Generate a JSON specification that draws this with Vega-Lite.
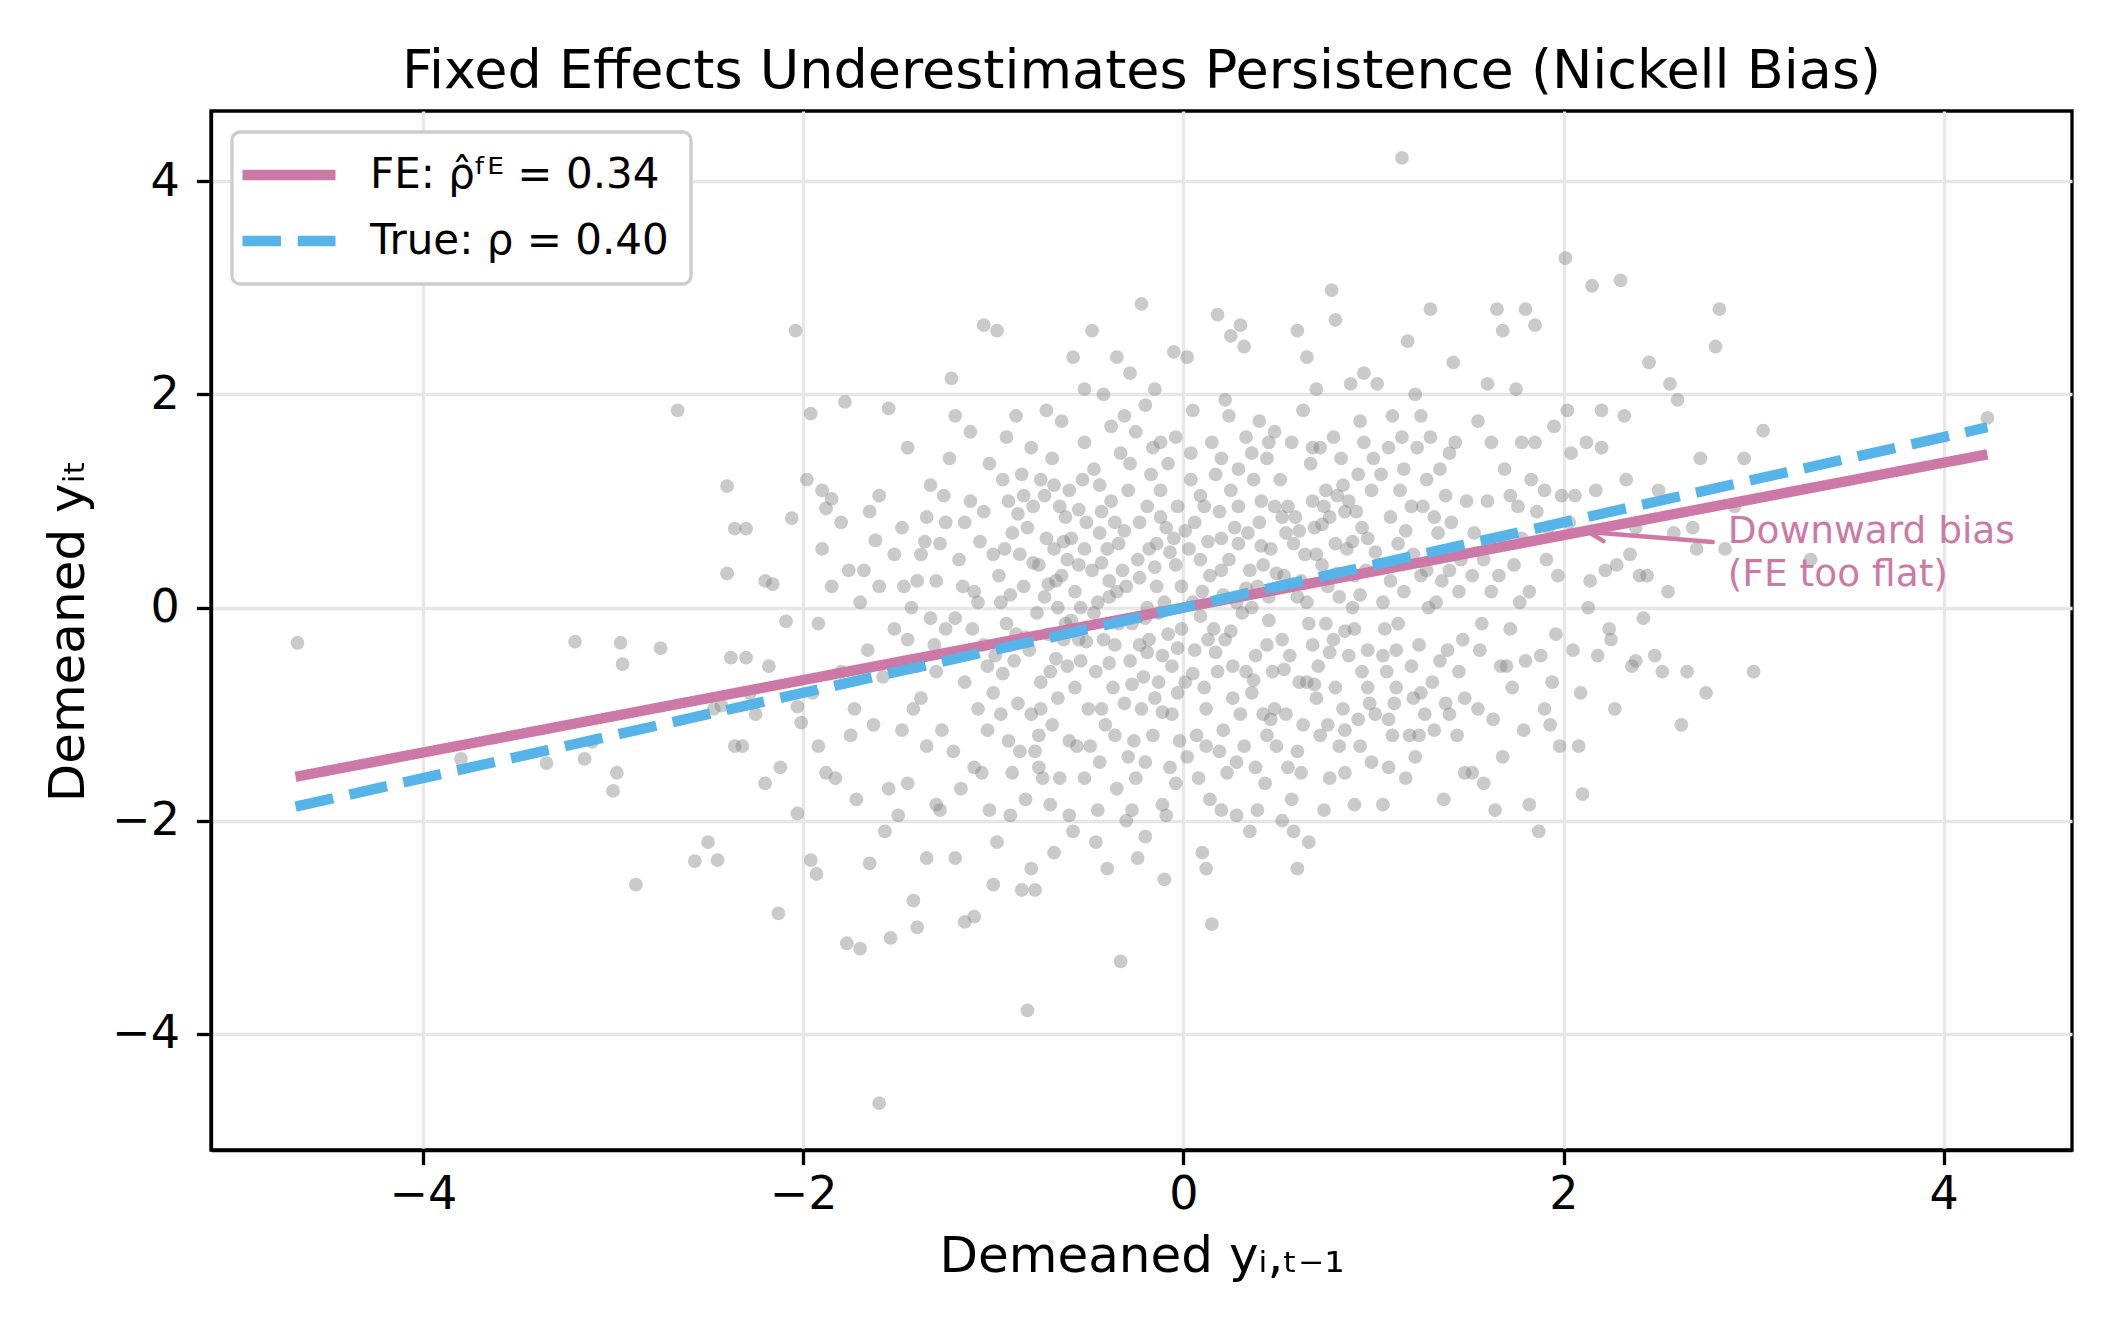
{
"$schema": "https://vega.github.io/schema/vega-lite/v6.json",
"autosize": {"type": "none"},
"padding": {"left": 211, "top": 111, "right": 43, "bottom": 190},
"width": 1861,
"height": 1039,
"background": "white",
"title": {"text": "Fixed Effects Underestimates Persistence (Nickell Bias)", "font": "DejaVu Sans", "fontSize": 54, "fontWeight": "normal", "color": "black", "anchor": "middle", "frame": "group", "offset": 12},
"config": {
  "font": "DejaVu Sans",
  "view": {"stroke": "black", "strokeWidth": 3.3},
  "axis": {"domain": true, "domainColor": "black", "domainWidth": 3.3, "ticks": true, "tickColor": "black", "tickWidth": 3.3, "tickSize": 14.6, "grid": true, "gridColor": "#e7e7e7", "gridWidth": 3.3, "labelFont": "DejaVu Sans", "labelFontSize": 46, "labelColor": "black", "titleFont": "DejaVu Sans", "titleFontSize": 50, "titleFontWeight": "normal", "titleColor": "black", "format": "d", "labelExpr": "replace(datum.label, '-', '\u2212')"},
  "legend": {"orient": "top-left", "offset": 21, "padding": 22, "strokeColor": "#cccccc", "strokeWidth": 3.3, "cornerRadius": 8, "fillColor": "white", "symbolType": "M-3,0H3", "symbolSize": 961, "symbolStrokeWidth": 10.4, "symbolOffset": 14, "labelFont": "DejaVu Sans", "labelFontSize": 42, "labelColor": "black", "labelOffset": 60, "rowPadding": 24, "labelLimit": 1000}
},
"datasets": {
  "pts": [
{"x":-4.66,"y":-0.33},{"x":-3.8,"y":-1.42},{"x":-3.35,"y":-1.46},{"x":-3.2,"y":-0.32},{"x":-3.15,"y":-1.42},{"x":-3.11,"y":-1.26},{"x":-3.0,"y":-1.72},{"x":-2.98,"y":-1.55},{"x":-2.96,"y":-0.33},{"x":-2.95,"y":-0.53},{"x":-2.88,"y":-2.6},
{"x":-2.75,"y":-0.38},{"x":-2.66,"y":1.85},{"x":-2.57,"y":-2.38},{"x":-2.5,"y":-2.2},{"x":-2.45,"y":-2.37},{"x":-2.4,"y":1.14},{"x":-2.4,"y":0.32},{"x":-2.36,"y":0.74},{"x":-2.3,"y":0.74},{"x":-2.38,"y":-0.47},{"x":-2.3,"y":-0.47},{"x":-2.47,"y":-0.95},{"x":-2.43,"y":-0.92},{"x":-2.36,"y":-1.3},{"x":-2.32,"y":-1.3},{"x":-2.13,"y":-2.87},{"x":-2.04,"y":2.6},{"x":-2.09,"y":-0.13},{"x":-2.2,"y":0.25},{"x":-2.16,"y":0.22},{"x":-2.06,"y":0.84},{"x":-2.03,"y":-0.93},{"x":-2.01,"y":-1.08},{"x":-2.03,"y":-1.93},{"x":-2.25,"y":-1.0},{"x":-2.18,"y":-0.55},{"x":-2.12,"y":-1.5},{"x":-2.28,"y":-0.8},{"x":-2.2,"y":-1.65},
{"x":-1.96,"y":-2.37},{"x":-1.93,"y":-2.5},{"x":-1.96,"y":1.82},{"x":-1.98,"y":1.2},{"x":-1.9,"y":1.1},{"x":-1.85,"y":1.02},{"x":-1.88,"y":0.93},{"x":-1.8,"y":0.8},{"x":-1.78,"y":1.93},{"x":-1.77,"y":-3.15},{"x":-1.7,"y":-3.2},{"x":-1.65,"y":-2.4},{"x":-1.6,"y":-4.65},{"x":-1.88,"y":-1.55},{"x":-1.83,"y":-1.6},{"x":-1.8,"y":-0.6},{"x":-1.75,"y":-1.2},{"x":-1.7,"y":0.05},{"x":-1.68,"y":0.35},{"x":-1.62,"y":0.63},{"x":-1.58,"y":-0.65},{"x":-1.55,"y":-1.7},{"x":-1.52,"y":-0.2},{"x":-1.92,"y":-0.15},{"x":-1.85,"y":0.2},{"x":-1.73,"y":-0.95},{"x":-1.95,"y":-0.8},{"x":-1.9,"y":0.55},{"x":-1.6,"y":1.05},{"x":-1.55,"y":1.87},{"x":-1.5,"y":-1.95},{"x":-1.63,"y":-1.1},{"x":-1.57,"y":-2.1},{"x":-1.65,"y":0.9},{"x":-1.72,"y":-1.8},{"x":-1.76,"y":0.35},{"x":-1.92,"y":-1.3},{"x":-1.54,"y":-3.1},{"x":-1.6,"y":0.2},{"x":-1.52,"y":0.5},{"x":-1.66,"y":-0.4},
{"x":-1.45,"y":1.5},{"x":-1.42,"y":-2.75},{"x":-1.4,"y":-3.0},{"x":-1.38,"y":0.5},{"x":-1.35,"y":-1.3},{"x":-1.3,"y":-1.85},{"x":-1.28,"y":-1.9},{"x":-1.25,"y":0.8},{"x":-1.22,"y":2.15},{"x":-1.2,"y":-0.1},{"x":-1.15,"y":-2.95},{"x":-1.1,"y":-2.9},{"x":-1.08,"y":0.05},{"x":-1.05,"y":2.65},{"x":-1.02,"y":1.35},{"x":-1.0,"y":-0.8},{"x":-1.45,"y":-0.3},{"x":-1.4,"y":0.25},{"x":-1.35,"y":0.85},{"x":-1.3,"y":-0.6},{"x":-1.27,"y":-1.15},{"x":-1.22,"y":-0.45},{"x":-1.18,"y":0.45},{"x":-1.12,"y":1.0},{"x":-1.1,"y":-1.5},{"x":-1.05,"y":-0.35},{"x":-1.03,"y":-1.15},{"x":-1.48,"y":-1.15},{"x":-1.43,"y":0.0},{"x":-1.33,"y":1.15},{"x":-1.2,"y":-2.35},{"x":-1.15,"y":0.8},{"x":-1.08,"y":-0.95},{"x":-1.0,"y":0.5},{"x":-1.38,"y":-0.85},{"x":-1.25,"y":-0.2},{"x":-1.12,"y":1.65},{"x":-1.45,"y":-1.65},{"x":-1.3,"y":0.25},{"x":-1.17,"y":-1.7},{"x":-1.05,"y":0.9},{"x":-1.02,"y":-1.9},{"x":-1.48,"y":0.75},{"x":-1.35,"y":-2.35},{"x":-1.23,"y":1.4},{"x":-1.1,"y":0.15},{"x":-1.0,"y":-2.6},{"x":-1.4,"y":-0.55},{"x":-1.28,"y":0.6},{"x":-1.15,"y":-0.7},{"x":-1.06,"y":-1.55},{"x":-1.33,"y":-0.1},{"x":-1.2,"y":1.8},{"x":-1.47,"y":0.2},
{"x":-0.98,"y":2.6},{"x":-0.95,"y":1.2},{"x":-0.9,"y":-1.55},{"x":-0.88,"y":1.8},{"x":-0.85,"y":-2.65},{"x":-0.82,"y":-3.78},{"x":-0.8,"y":-2.45},{"x":-0.78,"y":-2.65},{"x":-0.75,"y":1.2},{"x":-0.72,"y":1.85},{"x":-0.7,"y":-0.6},{"x":-0.68,"y":0.55},{"x":-0.65,"y":-1.6},{"x":-0.62,"y":0.85},{"x":-0.6,"y":-1.95},{"x":-0.58,"y":2.35},{"x":-0.55,"y":-0.3},{"x":-0.52,"y":1.55},{"x":-0.97,"y":0.3},{"x":-0.93,"y":-0.15},{"x":-0.9,"y":0.7},{"x":-0.87,"y":-0.9},{"x":-0.84,"y":0.2},{"x":-0.81,"y":-0.4},{"x":-0.79,"y":0.95},{"x":-0.76,"y":-1.2},{"x":-0.73,"y":0.1},{"x":-0.71,"y":-0.25},{"x":-0.69,"y":1.4},{"x":-0.66,"y":-0.85},{"x":-0.64,"y":0.3},{"x":-0.61,"y":-0.55},{"x":-0.59,"y":0.65},{"x":-0.56,"y":-1.3},{"x":-0.54,"y":0.0},{"x":-0.51,"y":0.8},{"x":-0.96,"y":-1.0},{"x":-0.92,"y":1.0},{"x":-0.89,"y":-0.5},{"x":-0.86,"y":0.5},{"x":-0.83,"y":-1.8},{"x":-0.8,"y":1.5},{"x":-0.77,"y":-0.05},{"x":-0.74,"y":-1.6},{"x":-0.72,"y":0.65},{"x":-0.69,"y":-1.1},{"x":-0.67,"y":0.25},{"x":-0.63,"y":-0.3},{"x":-0.6,"y":1.1},{"x":-0.57,"y":-0.75},{"x":-0.55,"y":0.4},{"x":-0.52,"y":-1.6},{"x":-0.99,"y":-0.45},{"x":-0.94,"y":0.55},{"x":-0.91,"y":-1.95},{"x":-0.85,"y":1.25},{"x":-0.8,"y":-1.0},{"x":-0.76,"y":0.4},{"x":-0.7,"y":-1.85},{"x":-0.65,"y":0.95},{"x":-0.62,"y":-0.15},{"x":-0.58,"y":-2.1},{"x":-0.53,"y":1.2},{"x":-0.98,"y":-2.2},{"x":-0.88,"y":-0.25},{"x":-0.82,"y":0.75},{"x":-0.75,"y":-0.7},{"x":-0.68,"y":-2.3},{"x":-0.64,"y":1.75},{"x":-0.57,"y":0.15},{"x":-0.5,"y":-0.95},{"x":-0.93,"y":1.6},{"x":-0.78,"y":-1.35},{"x":-0.66,"y":0.0},{"x":-0.54,"y":-0.5},{"x":-0.96,"y":0.05},{"x":-0.86,"y":-1.35},{"x":-0.73,"y":1.05},{"x":-0.61,"y":0.45},{"x":-0.52,"y":2.05},
{"x":-0.48,"y":2.6},{"x":-0.45,"y":-1.9},{"x":-0.42,"y":2.0},{"x":-0.4,"y":-2.45},{"x":-0.38,"y":1.7},{"x":-0.35,"y":2.35},{"x":-0.33,"y":-3.32},{"x":-0.3,"y":-2.0},{"x":-0.28,"y":2.2},{"x":-0.25,"y":-1.6},{"x":-0.22,"y":2.85},{"x":-0.2,"y":-2.15},{"x":-0.18,"y":-0.3},{"x":-0.15,"y":2.05},{"x":-0.12,"y":1.55},{"x":-0.1,"y":-2.55},{"x":-0.08,"y":1.35},{"x":-0.05,"y":2.4},{"x":-0.03,"y":-0.8},{"x":-0.48,"y":0.35},{"x":-0.46,"y":-0.6},{"x":-0.43,"y":0.9},{"x":-0.41,"y":-1.1},{"x":-0.39,"y":0.1},{"x":-0.36,"y":-0.35},{"x":-0.34,"y":0.6},{"x":-0.31,"y":-0.9},{"x":-0.29,"y":1.1},{"x":-0.27,"y":-0.15},{"x":-0.24,"y":0.45},{"x":-0.21,"y":-0.65},{"x":-0.19,"y":0.95},{"x":-0.16,"y":-1.2},{"x":-0.14,"y":0.2},{"x":-0.11,"y":-0.45},{"x":-0.09,"y":0.75},{"x":-0.06,"y":-1.0},{"x":-0.04,"y":0.4},{"x":-0.01,"y":-0.2},{"x":-0.47,"y":1.3},{"x":-0.44,"y":-1.45},{"x":-0.4,"y":0.55},{"x":-0.37,"y":-0.75},{"x":-0.33,"y":1.45},{"x":-0.3,"y":0.2},{"x":-0.26,"y":-1.25},{"x":-0.23,"y":0.8},{"x":-0.2,"y":-0.1},{"x":-0.17,"y":1.25},{"x":-0.13,"y":-0.7},{"x":-0.1,"y":0.05},{"x":-0.07,"y":-1.5},{"x":-0.03,"y":0.95},{"x":-0.49,"y":-1.3},{"x":-0.45,"y":0.05},{"x":-0.42,"y":-0.3},{"x":-0.38,"y":1.0},{"x":-0.35,"y":-1.7},{"x":-0.32,"y":0.35},{"x":-0.28,"y":-0.5},{"x":-0.25,"y":1.65},{"x":-0.22,"y":-0.95},{"x":-0.18,"y":0.55},{"x":-0.15,"y":-0.85},{"x":-0.12,"y":1.1},{"x":-0.08,"y":-0.25},{"x":-0.05,"y":0.65},{"x":-0.02,"y":-1.25},{"x":-0.46,"y":-2.2},{"x":-0.36,"y":0.8},{"x":-0.27,"y":-1.9},{"x":-0.19,"y":0.0},{"x":-0.11,"y":-1.85},{"x":-0.04,"y":1.6},{"x":-0.43,"y":-0.95},{"x":-0.31,"y":1.8},{"x":-0.23,"y":-0.35},{"x":-0.14,"y":0.6},{"x":-0.06,"y":-0.55},{"x":-0.39,"y":0.25},{"x":-0.29,"y":-1.4},{"x":-0.16,"y":1.5},{"x":-0.09,"y":-1.95},{"x":-0.01,"y":0.2},{"x":-0.24,"y":-2.35},{"x":-0.13,"y":-0.05},{"x":-0.34,"y":-0.15},{"x":-0.44,"y":0.7},{"x":-0.2,"y":1.9},
{"x":0.02,"y":2.35},{"x":0.05,"y":1.85},{"x":0.08,"y":-1.6},{"x":0.1,"y":-2.3},{"x":0.12,"y":-2.45},{"x":0.15,"y":-2.97},{"x":0.18,"y":2.75},{"x":0.2,"y":-1.9},{"x":0.22,"y":1.95},{"x":0.25,"y":2.55},{"x":0.28,"y":-1.95},{"x":0.3,"y":2.65},{"x":0.32,"y":2.45},{"x":0.35,"y":-2.1},{"x":0.38,"y":-1.5},{"x":0.4,"y":1.75},{"x":0.42,"y":-1.0},{"x":0.45,"y":1.55},{"x":0.48,"y":-0.95},{"x":0.03,"y":0.55},{"x":0.06,"y":-0.4},{"x":0.09,"y":1.05},{"x":0.11,"y":-0.75},{"x":0.14,"y":0.3},{"x":0.16,"y":-0.2},{"x":0.19,"y":0.9},{"x":0.21,"y":-1.15},{"x":0.24,"y":0.45},{"x":0.26,"y":-0.55},{"x":0.29,"y":1.3},{"x":0.31,"y":-0.05},{"x":0.34,"y":0.7},{"x":0.36,"y":-0.8},{"x":0.39,"y":0.2},{"x":0.41,"y":1.0},{"x":0.44,"y":-0.35},{"x":0.46,"y":0.55},{"x":0.49,"y":-1.3},{"x":0.01,"y":-0.7},{"x":0.04,"y":1.2},{"x":0.07,"y":-1.2},{"x":0.1,"y":0.15},{"x":0.13,"y":-0.3},{"x":0.15,"y":1.55},{"x":0.18,"y":-0.6},{"x":0.2,"y":0.35},{"x":0.23,"y":-1.55},{"x":0.25,"y":1.1},{"x":0.28,"y":0.05},{"x":0.3,"y":-1.0},{"x":0.33,"y":1.6},{"x":0.35,"y":0.35},{"x":0.38,"y":-0.45},{"x":0.4,"y":0.8},{"x":0.43,"y":-1.65},{"x":0.45,"y":0.1},{"x":0.48,"y":0.95},{"x":0.02,"y":-1.4},{"x":0.06,"y":0.8},{"x":0.12,"y":-0.95},{"x":0.17,"y":1.25},{"x":0.22,"y":-0.3},{"x":0.27,"y":0.75},{"x":0.32,"y":-1.3},{"x":0.37,"y":1.2},{"x":0.42,"y":0.4},{"x":0.47,"y":-0.6},{"x":0.05,"y":0.05},{"x":0.14,"y":-1.8},{"x":0.24,"y":1.8},{"x":0.33,"y":-0.6},{"x":0.44,"y":1.4},{"x":0.09,"y":0.45},{"x":0.19,"y":-1.35},{"x":0.29,"y":0.6},{"x":0.39,"y":-1.9},{"x":0.48,"y":1.65},{"x":0.26,"y":-0.85},{"x":0.11,"y":0.95},{"x":0.36,"y":0.0},{"x":0.46,"y":-1.05},{"x":0.2,"y":1.4},
{"x":0.52,"y":-2.0},{"x":0.55,"y":-1.5},{"x":0.58,"y":-2.1},{"x":0.6,"y":2.6},{"x":0.62,"y":-1.55},{"x":0.65,"y":2.35},{"x":0.68,"y":1.0},{"x":0.7,"y":2.05},{"x":0.72,"y":-1.2},{"x":0.75,"y":1.1},{"x":0.78,"y":2.98},{"x":0.8,"y":2.7},{"x":0.82,"y":-1.3},{"x":0.85,"y":-1.55},{"x":0.88,"y":2.1},{"x":0.9,"y":-1.85},{"x":0.93,"y":1.75},{"x":0.95,"y":2.2},{"x":0.98,"y":-0.9},{"x":0.53,"y":0.3},{"x":0.56,"y":-0.45},{"x":0.59,"y":0.85},{"x":0.61,"y":-0.7},{"x":0.64,"y":0.5},{"x":0.66,"y":-0.15},{"x":0.69,"y":0.75},{"x":0.71,"y":-0.55},{"x":0.74,"y":0.95},{"x":0.76,"y":0.2},{"x":0.79,"y":-0.3},{"x":0.81,"y":1.05},{"x":0.84,"y":-0.95},{"x":0.86,"y":0.55},{"x":0.89,"y":0.0},{"x":0.91,"y":0.9},{"x":0.94,"y":-0.6},{"x":0.96,"y":0.35},{"x":0.99,"y":1.1},{"x":0.51,"y":1.2},{"x":0.54,"y":-1.0},{"x":0.57,"y":1.55},{"x":0.6,"y":0.1},{"x":0.63,"y":-1.1},{"x":0.67,"y":1.35},{"x":0.7,"y":-0.85},{"x":0.73,"y":0.4},{"x":0.77,"y":-1.6},{"x":0.8,"y":0.6},{"x":0.83,"y":1.4},{"x":0.87,"y":-0.45},{"x":0.9,"y":0.3},{"x":0.93,"y":-1.3},{"x":0.97,"y":0.65},{"x":0.52,"y":-0.3},{"x":0.58,"y":0.6},{"x":0.63,"y":1.85},{"x":0.68,"y":-0.35},{"x":0.74,"y":-1.9},{"x":0.79,"y":1.6},{"x":0.85,"y":0.9},{"x":0.9,"y":-0.2},{"x":0.95,"y":1.55},{"x":0.55,"y":0.95},{"x":0.65,"y":-0.7},{"x":0.75,"y":-0.15},{"x":0.85,"y":-1.15},{"x":0.92,"y":1.25},{"x":0.57,"y":-1.8},{"x":0.72,"y":1.5},{"x":0.82,"y":0.1},{"x":0.97,"y":-0.4},{"x":0.62,"y":0.25},{"x":0.87,"y":1.0},{"x":0.7,"y":0.5},{"x":0.8,"y":-0.75},{"x":0.94,"y":0.75},{"x":0.54,"y":0.7},{"x":0.77,"y":0.85},{"x":0.99,"y":-1.45},{"x":0.6,"y":-2.45},{"x":0.66,"y":-2.2},
{"x":1.02,"y":2.1},{"x":1.05,"y":-1.85},{"x":1.08,"y":-1.5},{"x":1.1,"y":1.8},{"x":1.12,"y":-0.4},{"x":1.15,"y":4.22},{"x":1.18,"y":2.5},{"x":1.2,"y":-0.55},{"x":1.22,"y":2.0},{"x":1.25,"y":1.8},{"x":1.28,"y":1.2},{"x":1.3,"y":2.8},{"x":1.32,"y":-1.15},{"x":1.35,"y":1.3},{"x":1.38,"y":-0.9},{"x":1.4,"y":1.45},{"x":1.42,"y":2.3},{"x":1.45,"y":-0.6},{"x":1.48,"y":-1.55},{"x":1.03,"y":0.4},{"x":1.06,"y":-0.2},{"x":1.09,"y":0.85},{"x":1.11,"y":-0.9},{"x":1.14,"y":1.1},{"x":1.16,"y":0.15},{"x":1.19,"y":-1.2},{"x":1.21,"y":0.5},{"x":1.24,"y":-0.35},{"x":1.26,"y":0.95},{"x":1.29,"y":0.0},{"x":1.31,"y":-0.7},{"x":1.34,"y":0.7},{"x":1.36,"y":0.25},{"x":1.39,"y":-0.4},{"x":1.41,"y":0.8},{"x":1.44,"y":-1.2},{"x":1.46,"y":0.45},{"x":1.49,"y":1.0},{"x":1.01,"y":-1.0},{"x":1.04,"y":1.25},{"x":1.07,"y":-0.6},{"x":1.13,"y":0.6},{"x":1.17,"y":-1.6},{"x":1.23,"y":1.5},{"x":1.27,"y":-1.0},{"x":1.33,"y":0.05},{"x":1.37,"y":-1.8},{"x":1.43,"y":1.55},{"x":1.47,"y":-0.3},{"x":1.05,"y":0.05},{"x":1.15,"y":1.6},{"x":1.25,"y":-0.8},{"x":1.35,"y":-0.5},{"x":1.45,"y":0.15},{"x":1.1,"y":-1.2},{"x":1.2,"y":0.95},{"x":1.3,"y":1.6},{"x":1.4,"y":-1.0},{"x":1.12,"y":-0.75},{"x":1.28,"y":0.35},{"x":1.38,"y":1.05},{"x":1.08,"y":1.5},{"x":1.22,"y":-1.4},{"x":1.48,"y":-0.85},
{"x":1.52,"y":-1.55},{"x":1.55,"y":1.75},{"x":1.58,"y":-1.65},{"x":1.6,"y":2.1},{"x":1.62,"y":0.15},{"x":1.65,"y":2.8},{"x":1.68,"y":2.6},{"x":1.7,"y":0.6},{"x":1.73,"y":-0.75},{"x":1.75,"y":2.05},{"x":1.78,"y":1.55},{"x":1.8,"y":2.8},{"x":1.82,"y":-1.85},{"x":1.85,"y":2.65},{"x":1.87,"y":-2.1},{"x":1.9,"y":1.1},{"x":1.92,"y":0.75},{"x":1.95,"y":1.7},{"x":1.98,"y":-1.3},{"x":1.53,"y":0.7},{"x":1.56,"y":-0.4},{"x":1.6,"y":1.0},{"x":1.63,"y":-1.05},{"x":1.66,"y":0.3},{"x":1.69,"y":1.3},{"x":1.72,"y":-0.2},{"x":1.76,"y":0.95},{"x":1.79,"y":-1.15},{"x":1.82,"y":0.15},{"x":1.85,"y":1.55},{"x":1.88,"y":-0.45},{"x":1.91,"y":0.45},{"x":1.94,"y":-0.7},{"x":1.97,"y":0.3},{"x":1.55,"y":-0.95},{"x":1.62,"y":1.55},{"x":1.68,"y":-1.4},{"x":1.74,"y":0.4},{"x":1.8,"y":-0.5},{"x":1.86,"y":0.9},{"x":1.93,"y":-1.1},{"x":1.99,"y":1.05},{"x":1.58,"y":0.45},{"x":1.7,"y":-0.55},{"x":1.83,"y":1.2},{"x":1.96,"y":-0.25},{"x":1.64,"y":-1.9},{"x":1.78,"y":0.65},{"x":1.9,"y":-0.95},
{"x":2.01,"y":3.28},{"x":2.02,"y":1.85},{"x":2.05,"y":-0.4},{"x":2.08,"y":-1.3},{"x":2.1,"y":-1.75},{"x":2.12,"y":1.55},{"x":2.15,"y":3.02},{"x":2.18,"y":-0.45},{"x":2.2,"y":1.5},{"x":2.25,"y":-0.3},{"x":2.28,"y":0.4},{"x":2.3,"y":3.07},{"x":2.32,"y":1.8},{"x":2.35,"y":0.5},{"x":2.38,"y":-0.5},{"x":2.4,"y":0.3},{"x":2.42,"y":-0.1},{"x":2.45,"y":2.3},{"x":2.5,"y":1.1},{"x":2.52,"y":-0.6},{"x":2.55,"y":0.15},{"x":2.6,"y":1.95},{"x":2.62,"y":-1.1},{"x":2.65,"y":-0.6},{"x":2.7,"y":0.55},{"x":2.72,"y":1.4},{"x":2.75,"y":-0.8},{"x":2.8,"y":2.45},{"x":2.82,"y":2.8},{"x":2.85,"y":0.55},{"x":2.9,"y":0.95},{"x":2.95,"y":1.4},{"x":2.03,"y":0.8},{"x":2.06,"y":1.05},{"x":2.13,"y":0.0},{"x":2.17,"y":1.1},{"x":2.22,"y":0.35},{"x":2.27,"y":-0.95},{"x":2.33,"y":1.2},{"x":2.38,"y":0.75},{"x":2.48,"y":-0.45},{"x":2.58,"y":0.7},{"x":2.68,"y":0.75},{"x":2.09,"y":-0.8},{"x":2.2,"y":1.85},{"x":2.36,"y":-0.55},{"x":2.56,"y":2.1},{"x":2.04,"y":1.45},{"x":2.14,"y":0.25},{"x":2.24,"y":-0.2},{"x":2.44,"y":0.3},
{"x":3.0,"y":-0.6},{"x":3.05,"y":1.66},{"x":3.3,"y":0.45},{"x":4.23,"y":1.78},
{"x":-0.95,"y":-0.62},{"x":-0.91,"y":0.12},{"x":-0.87,"y":0.88},{"x":-0.83,"y":-0.28},{"x":-0.79,"y":0.42},{"x":-0.75,"y":-0.95},{"x":-0.71,"y":0.22},{"x":-0.67,"y":-0.48},{"x":-0.63,"y":0.62},{"x":-0.59,"y":-0.12},{"x":-0.55,"y":0.92},{"x":-0.51,"y":-0.32},{"x":-0.47,"y":-0.05},{"x":-0.43,"y":0.42},{"x":-0.39,"y":-0.52},{"x":-0.35,"y":0.15},{"x":-0.31,"y":0.72},{"x":-0.27,"y":-0.72},{"x":-0.23,"y":0.28},{"x":-0.19,"y":-0.42},{"x":-0.15,"y":0.38},{"x":-0.11,"y":-0.98},{"x":-0.07,"y":0.52},{"x":-0.03,"y":-0.38},{"x":0.01,"y":0.72},{"x":0.05,"y":-0.62},{"x":0.09,"y":-0.08},{"x":0.13,"y":0.62},{"x":0.17,"y":-0.42},{"x":0.21,"y":0.12},{"x":0.25,"y":-0.22},{"x":0.29,"y":0.95},{"x":0.33,"y":0.18},{"x":0.37,"y":-0.68},{"x":0.41,"y":0.58},{"x":0.45,"y":-0.12},{"x":0.49,"y":0.32},{"x":0.53,"y":-0.58},{"x":0.57,"y":0.22},{"x":0.61,"y":0.72},{"x":0.65,"y":0.05},{"x":0.69,"y":-0.72},{"x":0.73,"y":0.78},{"x":0.77,"y":-0.42},{"x":0.81,"y":0.32},{"x":0.85,"y":-0.22},{"x":0.89,"y":0.62},{"x":0.93,"y":0.12},{"x":0.97,"y":-0.75},{"x":1.01,"y":0.52},{"x":1.05,"y":-0.45},{"x":1.09,"y":0.25},{"x":1.13,"y":-0.15},{"x":1.17,"y":0.72},{"x":1.21,"y":-0.85},{"x":1.25,"y":0.3},
{"x":-0.92,"y":-1.25},{"x":-0.84,"y":1.05},{"x":-0.76,"y":-1.5},{"x":-0.68,"y":1.15},{"x":-0.6,"y":-1.25},{"x":-0.52,"y":0.55},{"x":-0.44,"y":1.15},{"x":-0.36,"y":-1.2},{"x":-0.28,"y":1.35},{"x":-0.2,"y":-1.45},{"x":-0.12,"y":0.85},{"x":-0.04,"y":-1.65},{"x":0.04,"y":1.45},{"x":0.12,"y":-1.3},{"x":0.2,"y":0.65},{"x":0.28,"y":-1.45},{"x":0.36,"y":1.45},{"x":0.44,"y":-1.2},{"x":0.52,"y":0.85},{"x":0.6,"y":-1.35},{"x":0.68,"y":1.5},{"x":0.76,"y":-1.1},{"x":0.84,"y":1.15},{"x":0.92,"y":-1.05},{"x":1.0,"y":1.4},{"x":1.08,"y":-1.05},{"x":1.16,"y":1.3},{"x":1.24,"y":-1.2},{"x":1.32,"y":0.85},{"x":1.4,"y":0.35},
{"x":-1.42,"y":-0.95},{"x":-1.36,"y":0.62},{"x":-1.31,"y":-0.35},{"x":-1.26,"y":1.05},{"x":-1.21,"y":-1.35},{"x":-1.16,"y":0.2},{"x":-1.11,"y":-0.2},{"x":-1.07,"y":0.62},{"x":-1.03,"y":-0.55},{"x":1.52,"y":0.3},{"x":1.57,"y":-0.15},{"x":1.61,"y":0.62},{"x":1.67,"y":-0.55},{"x":1.72,"y":1.05},{"x":1.77,"y":0.05}
  ],
  "fits": [
    {"series": "FE: \u03c1\u0302\u1da0\u1d31 = 0.34", "x": -4.67, "y": -1.588},
    {"series": "FE: \u03c1\u0302\u1da0\u1d31 = 0.34", "x": 4.23, "y": 1.438},
    {"series": "True: \u03c1 = 0.40", "x": -4.67, "y": -1.868},
    {"series": "True: \u03c1 = 0.40", "x": 4.23, "y": 1.692}
  ],
  "arrow": [
    {"x": 2.785, "y": 0.616, "x2": 2.13, "y2": 0.71},
    {"x": 2.2105, "y": 0.6232, "x2": 2.13, "y2": 0.71},
    {"x": 2.2172, "y": 0.7728, "x2": 2.13, "y2": 0.71}
  ],
  "note": [
    {"x": 2.864, "y": 0.607, "label": "Downward bias\n(FE too flat)"}
  ]
},
"layer": [
  {
    "data": {"name": "pts"},
    "mark": {"type": "circle", "size": 190, "color": "#808080", "opacity": 0.42},
    "encoding": {
      "x": {"field": "x", "type": "quantitative", "scale": {"domain": [-5.115, 4.675], "nice": false, "zero": false}, "title": "Demeaned y\u1d62,\u209c\u208b\u2081", "axis": {"values": [-4, -2, 0, 2, 4], "labelPadding": 8, "titlePadding": 14}},
      "y": {"field": "y", "type": "quantitative", "scale": {"domain": [-5.09, 4.66], "nice": false, "zero": false}, "title": "Demeaned y\u1d62\u209c", "axis": {"values": [-4, -2, 0, 2, 4], "labelPadding": 17, "titlePadding": 18}}
    }
  },
  {
    "data": {"name": "fits"},
    "mark": {"type": "line", "strokeWidth": 10.4, "strokeCap": "butt"},
    "encoding": {
      "x": {"field": "x", "type": "quantitative"},
      "y": {"field": "y", "type": "quantitative"},
      "color": {"field": "series", "type": "nominal", "scale": {"domain": ["FE: \u03c1\u0302\u1da0\u1d31 = 0.34", "True: \u03c1 = 0.40"], "range": ["#CC79A7", "#56B4E9"]}, "legend": {"title": null}},
      "strokeDash": {"field": "series", "type": "nominal", "scale": {"domain": ["FE: \u03c1\u0302\u1da0\u1d31 = 0.34", "True: \u03c1 = 0.40"], "range": [[1, 0], [38.5, 16.7]]}, "legend": {"title": null}}
    }
  },
  {
    "data": {"name": "arrow"},
    "mark": {"type": "rule", "color": "#CC79A7", "strokeWidth": 4.5, "strokeCap": "round"},
    "encoding": {
      "x": {"field": "x", "type": "quantitative"},
      "y": {"field": "y", "type": "quantitative"},
      "x2": {"field": "x2"},
      "y2": {"field": "y2"}
    }
  },
  {
    "data": {"name": "note"},
    "mark": {"type": "text", "color": "#CC79A7", "font": "DejaVu Sans", "fontSize": 37.5, "align": "left", "baseline": "alphabetic", "lineBreak": "\n", "lineHeight": 43},
    "encoding": {
      "x": {"field": "x", "type": "quantitative"},
      "y": {"field": "y", "type": "quantitative"},
      "text": {"field": "label"}
    }
  }
]
}
